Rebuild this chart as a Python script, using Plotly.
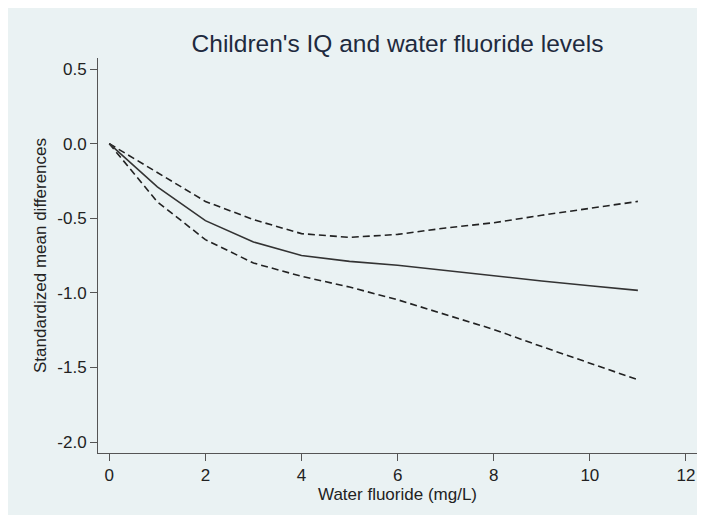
import plotly.graph_objects as go

fluoride = [0, 1, 2, 3, 4, 5, 6, 7, 8, 9, 10, 11]
smd = [0.0, -0.29, -0.516, -0.659, -0.749, -0.789, -0.815, -0.851, -0.888, -0.920, -0.952, -0.983]
upper_ci = [0.0, -0.196, -0.387, -0.509, -0.603, -0.628, -0.608, -0.565, -0.530, -0.480, -0.435, -0.387]
lower_ci = [0.0, -0.39, -0.643, -0.80, -0.889, -0.961, -1.046, -1.146, -1.245, -1.36, -1.47, -1.582]

x_ticks = [0, 2, 4, 6, 8, 10, 12]
y_ticks = [0.5, 0.0, -0.5, -1.0, -1.5, -2.0]
y_tick_labels = ["0.5", "0.0", "-0.5", "-1.0", "-1.5", "-2.0"]

FONT = "Liberation Sans, Arial, sans-serif"
BG = "#EAF2F3"

fig = go.Figure()
fig.add_trace(go.Scatter(x=fluoride, y=upper_ci, mode="lines",
                         line=dict(color="#222222", width=1.6, dash="7px,4px"), showlegend=False))
fig.add_trace(go.Scatter(x=fluoride, y=lower_ci, mode="lines",
                         line=dict(color="#222222", width=1.6, dash="7px,4px"), showlegend=False))
fig.add_trace(go.Scatter(x=fluoride, y=smd, mode="lines",
                         line=dict(color="#333333", width=1.6), showlegend=False))

# figure geometry (page is offset by the 8px body margin)
W, H = 705, 507
L, R, T, B = 89.7, 688.7, 50.3, 445.3

fig.update_layout(
    width=W, height=H,
    margin=dict(l=L, r=W - R, t=T, b=H - B, pad=0),
    paper_bgcolor=BG,
    plot_bgcolor=BG,
    font=dict(family=FONT, color="#222222"),
    title=dict(text="Children's IQ and water fluoride levels",
               x=0.5, xref="paper", xanchor="center",
               y=1 - 35 / H, yref="container", yanchor="middle",
               font=dict(size=24.5, color="#1E2A3E", family=FONT)),
    xaxis=dict(range=[-0.235, 12.23], tickvals=x_ticks, showgrid=False, zeroline=False,
               showline=True, linecolor="#555555", linewidth=1,
               ticks="outside", ticklen=7, tickcolor="#555555",
               tickfont=dict(size=17, color="#222222"),
               title=dict(text="Water fluoride (mg/L)", standoff=2,
                          font=dict(size=17, color="#222222"))),
    yaxis=dict(range=[-2.073, 0.574], tickvals=y_ticks, ticktext=y_tick_labels,
               showgrid=False, zeroline=False,
               showline=True, linecolor="#555555", linewidth=1,
               ticks="outside", ticklen=7, tickcolor="#555555",
               tickfont=dict(size=17, color="#222222"),
               title=dict(text="Standardized mean differences", standoff=6,
                          font=dict(size=17, color="#222222"))),
)

fig.write_html("out.html")
